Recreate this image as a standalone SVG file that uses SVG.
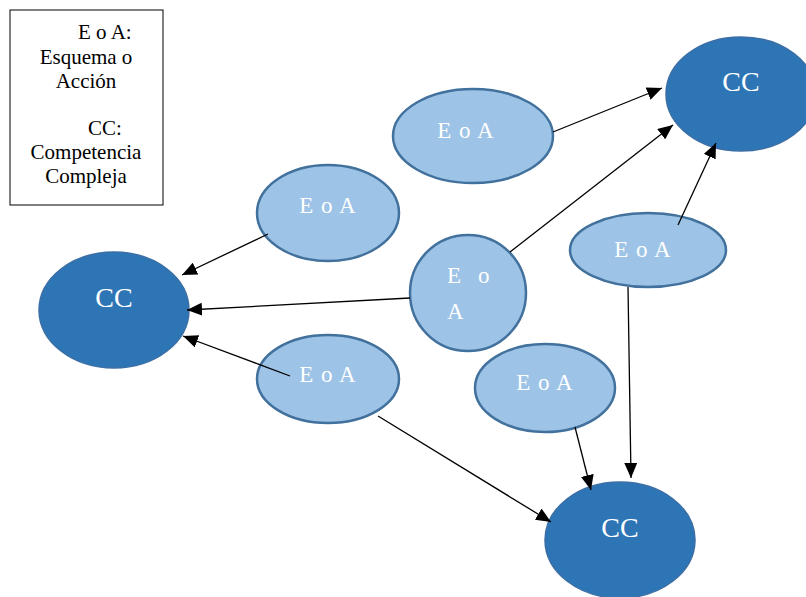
<svg xmlns="http://www.w3.org/2000/svg" width="806" height="597" viewBox="0 0 806 597">
<style>
.cc{fill:#2E75B6;stroke:#3A6EA5;stroke-width:1.5}
.ea{fill:#9DC3E6;stroke:#41719C;stroke-width:2.5}
.t{font-family:"Liberation Serif","Times New Roman",serif;fill:#fff}
.t1{font-size:28px;text-anchor:middle}
.t2{font-size:23px;text-anchor:middle;letter-spacing:1px}
.t3{font-size:23px}
.lg{font-family:"Liberation Serif","Times New Roman",serif;font-size:21px;fill:#000}
.c{stroke:#000;stroke-width:1.3;fill:none;marker-end:url(#ah)}
</style>
<defs>
<marker id="ah" markerUnits="userSpaceOnUse" markerWidth="15" markerHeight="13" refX="15" refY="6.5" orient="auto">
<path d="M0,0 L15,6.5 L0,13 Z" fill="#000"/>
</marker>
</defs>
<rect width="806" height="597" fill="#fff"/>
<g id="legend">
<rect x="10" y="10" width="153" height="195" fill="#fff" stroke="#000" stroke-width="1"/>
<text class="lg" x="78" y="39">E o A:</text>
<text class="lg" x="86" y="64" text-anchor="middle">Esquema o</text>
<text class="lg" x="86" y="88" text-anchor="middle">Acción</text>
<text class="lg" x="88" y="135">CC:</text>
<text class="lg" x="86" y="159" text-anchor="middle">Competencia</text>
<text class="lg" x="86" y="183" text-anchor="middle">Compleja</text>
</g>
<g id="cc-top">
<ellipse class="cc" cx="741" cy="94" rx="75" ry="57"/>
<text class="t t1" x="741" y="91">CC</text>
</g>
<g id="cc-left">
<ellipse class="cc" cx="114" cy="310" rx="75" ry="58"/>
<text class="t t1" x="114" y="307">CC</text>
</g>
<g id="cc-bottom">
<ellipse class="cc" cx="620" cy="540" rx="75" ry="58"/>
<text class="t t1" x="620" y="537">CC</text>
</g>
<g id="ea-top">
<ellipse class="ea" cx="473" cy="136" rx="80" ry="47"/>
<text class="t t2" x="466" y="138">E o A</text>
</g>
<g id="ea-upper-left">
<ellipse class="ea" cx="328" cy="213" rx="71" ry="48"/>
<text class="t t2" x="328" y="213">E o A</text>
</g>
<g id="ea-circle">
<ellipse class="ea" cx="468" cy="293" rx="58" ry="58"/>
<text class="t t3" x="447" y="283">E</text>
<text class="t t3" x="478" y="283">o</text>
<text class="t t3" x="447" y="319">A</text>
</g>
<g id="ea-right">
<ellipse class="ea" cx="648" cy="250" rx="78" ry="37"/>
<text class="t t2" x="643" y="257">E o A</text>
</g>
<g id="ea-lower-left">
<ellipse class="ea" cx="328" cy="379" rx="71" ry="44"/>
<text class="t t2" x="328" y="382">E o A</text>
</g>
<g id="ea-lower-mid">
<ellipse class="ea" cx="545" cy="388" rx="70" ry="44"/>
<text class="t t2" x="545" y="390">E o A</text>
</g>
<g id="connectors">
<line class="c" x1="553" y1="132" x2="662" y2="88"/>
<line class="c" x1="510" y1="252" x2="673" y2="125"/>
<line class="c" x1="678" y1="225" x2="716" y2="143"/>
<line class="c" x1="268" y1="234" x2="182" y2="275"/>
<line class="c" x1="410" y1="298" x2="187" y2="310"/>
<line class="c" x1="290" y1="376" x2="183" y2="336"/>
<line class="c" x1="378" y1="416" x2="551" y2="522"/>
<line class="c" x1="575" y1="427" x2="591" y2="490"/>
<line class="c" x1="628" y1="287" x2="631" y2="478"/>
</g>
</svg>
